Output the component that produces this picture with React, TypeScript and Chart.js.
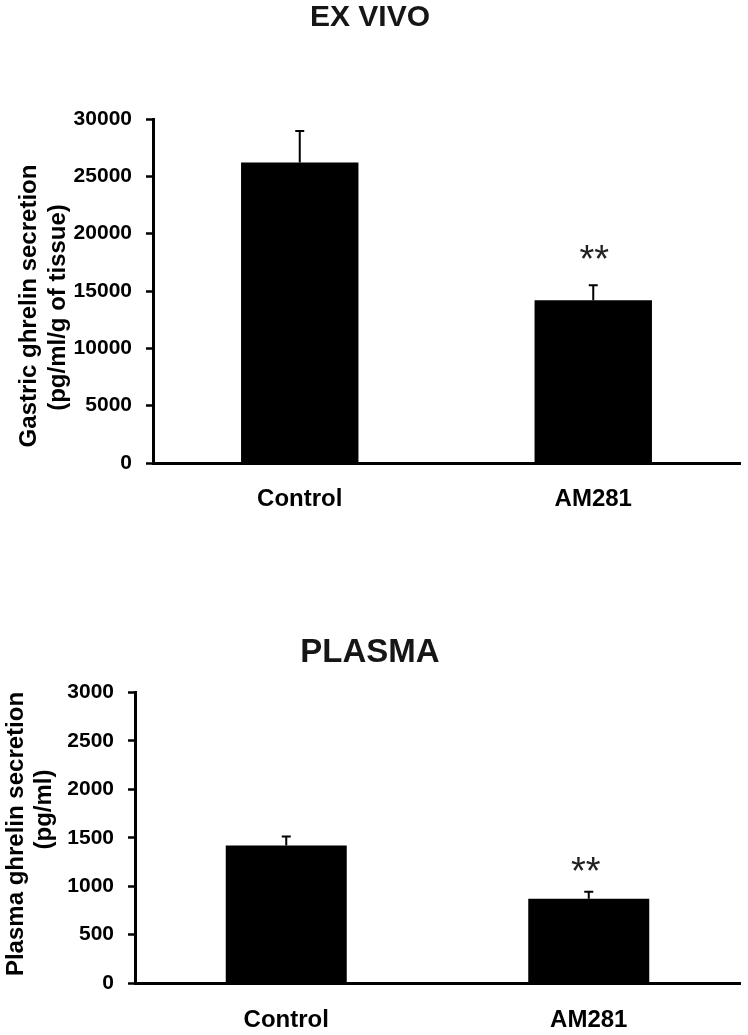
import React, { useEffect, useRef } from 'react';
import { Chart, registerables } from 'chart.js';

Chart.register(...registerables);

const FONT = '"Liberation Sans", Arial, Helvetica, sans-serif';

// ---------- data ----------
const categories = ['Control', 'AM281'];

const exVivoTitle = 'EX VIVO';
const exVivoYTitle = ['Gastric ghrelin secretion', '(pg/ml/g of tissue)'];
const exVivoValues = [26200, 14200];
const exVivoErrors = [2750, 1300];
const exVivoMarks = ['', '**'];
const exVivoTicks = [0, 5000, 10000, 15000, 20000, 25000, 30000];

const plasmaTitle = 'PLASMA';
const plasmaYTitle = ['Plasma ghrelin secretion', '(pg/ml)'];
const plasmaValues = [1420, 870];
const plasmaErrors = [93, 72];
const plasmaMarks = ['', '**'];
const plasmaTicks = [0, 500, 1000, 1500, 2000, 2500, 3000];

// ---------- plugins ----------
const errorBarPlugin = {
  id: 'errorBars',
  afterDatasetsDraw(chart: any, _args: any, opts: any) {
    const { ctx } = chart;
    const y = chart.scales.y;
    const meta = chart.getDatasetMeta(0);
    const values = chart.data.datasets[0].data as number[];
    ctx.save();
    ctx.strokeStyle = '#000';
    ctx.lineWidth = opts.lineWidth;
    meta.data.forEach((bar: any, i: number) => {
      const yBase = y.getPixelForValue(values[i]);
      const yTop = y.getPixelForValue(values[i] + opts.errors[i]);
      ctx.beginPath();
      ctx.moveTo(bar.x, yBase);
      ctx.lineTo(bar.x, yTop);
      ctx.moveTo(bar.x - opts.capHalf, yTop);
      ctx.lineTo(bar.x + opts.capHalf, yTop);
      ctx.stroke();
      const mark = opts.marks[i];
      if (mark) {
        ctx.fillStyle = '#222';
        ctx.font = opts.markFont;
        ctx.textAlign = 'center';
        ctx.textBaseline = 'alphabetic';
        ctx.fillText(mark, bar.x + opts.markDx, yTop - opts.markGap);
      }
    });
    ctx.restore();
  },
};

const yTitlePlugin = {
  id: 'yTitleLines',
  afterDraw(chart: any, _args: any, opts: any) {
    const { ctx } = chart;
    ctx.save();
    ctx.font = opts.font;
    ctx.fillStyle = '#000';
    ctx.textAlign = 'center';
    ctx.textBaseline = 'middle';
    opts.lines.forEach((t: string, i: number) => {
      ctx.save();
      ctx.translate(opts.x[i], opts.y[i]);
      ctx.rotate(-Math.PI / 2);
      ctx.fillText(t, 0, 0);
      ctx.restore();
    });
    ctx.restore();
  },
};

type PanelProps = {
  width: number;
  height: number;
  title: string;
  titleSize: number;
  titlePadTop: number;
  titlePadBottom: number;
  yTitle: string[];
  yTitleX: number[];
  yTitleY: number[];
  values: number[];
  errors: number[];
  marks: string[];
  markGap: number;
  markDx: number;
  ticks: number[];
  yAxisWidth: number;
  xAxisHeight: number;
  xLabelPad: number;
};

function BarPanel(p: PanelProps) {
  const ref = useRef<HTMLCanvasElement | null>(null);
  useEffect(() => {
    if (!ref.current) return;
    const chart = new Chart(ref.current, {
      type: 'bar',
      data: {
        labels: categories,
        datasets: [
          {
            data: p.values,
            backgroundColor: '#000',
            borderWidth: 0,
            barPercentage: 0.4,
            categoryPercentage: 1,
          },
        ],
      },
      options: {
        responsive: false,
        animation: false,
        devicePixelRatio: 1,
        layout: { padding: { left: 0, right: 8, top: 0, bottom: 0 } },
        plugins: {
          legend: { display: false },
          tooltip: { enabled: false },
          title: {
            display: true,
            text: p.title,
            color: '#161616',
            font: { family: FONT, size: p.titleSize, weight: 'bold', lineHeight: 1.2 },
            padding: { top: p.titlePadTop, bottom: p.titlePadBottom },
          },
          errorBars: {
            errors: p.errors,
            marks: p.marks,
            lineWidth: 2,
            capHalf: 4.5,
            markFont: `38px ${FONT}`,
            markGap: p.markGap,
            markDx: p.markDx,
          },
          yTitleLines: {
            lines: p.yTitle,
            x: p.yTitleX,
            y: p.yTitleY,
            font: `bold 24px ${FONT}`,
          },
        } as any,
        scales: {
          x: {
            type: 'category',
            offset: true,
            grid: { display: false, drawTicks: false },
            border: { display: true, color: '#000', width: 3 },
            ticks: {
              color: '#000',
              font: { family: FONT, size: 24, weight: 'bold' },
              padding: p.xLabelPad,
            },
            afterFit: (s: any) => {
              s.height = p.xAxisHeight;
            },
          },
          y: {
            min: p.ticks[0],
            max: p.ticks[p.ticks.length - 1],
            grid: {
              display: true,
              drawOnChartArea: false,
              drawTicks: true,
              tickLength: 7,
              tickWidth: 2.5,
              tickColor: '#000',
            },
            border: { display: true, color: '#000', width: 3 },
            ticks: {
              color: '#000',
              font: { family: FONT, size: 21, weight: 'bold' },
              padding: 14,
              callback: (v: any) => String(v),
            },
            afterBuildTicks: (s: any) => {
              s.ticks = p.ticks.map((v) => ({ value: v }));
            },
            afterFit: (s: any) => {
              s.width = p.yAxisWidth;
            },
          },
        },
      },
      plugins: [errorBarPlugin, yTitlePlugin],
    });
    return () => chart.destroy();
  }, []);
  return <canvas ref={ref} width={p.width} height={p.height} style={{ display: 'block' }} />;
}

export default function App() {
  useEffect(() => {
    document.body.style.margin = '0';
    document.body.style.background = '#fff';
  }, []);
  return (
    <div style={{ width: 748, height: 1035, background: '#fff' }}>
      <BarPanel
        width={748}
        height={525}
        title={exVivoTitle}
        titleSize={30}
        titlePadTop={0}
        titlePadBottom={83}
        yTitle={exVivoYTitle}
        yTitleX={[29.5, 58.5]}
        yTitleY={[306, 307.5]}
        values={exVivoValues}
        errors={exVivoErrors}
        marks={exVivoMarks}
        markGap={13}
        markDx={1}
        ticks={exVivoTicks}
        yAxisWidth={153}
        xAxisHeight={62}
        xLabelPad={22}
      />
      <BarPanel
        width={748}
        height={510}
        title={plasmaTitle}
        titleSize={33}
        titlePadTop={108}
        titlePadBottom={20}
        yTitle={plasmaYTitle}
        yTitleX={[16, 44]}
        yTitleY={[309, 284.5]}
        values={plasmaValues}
        errors={plasmaErrors}
        marks={plasmaMarks}
        markGap={8}
        markDx={-3}
        ticks={plasmaTicks}
        yAxisWidth={135}
        xAxisHeight={52}
        xLabelPad={23}
      />
    </div>
  );
}
